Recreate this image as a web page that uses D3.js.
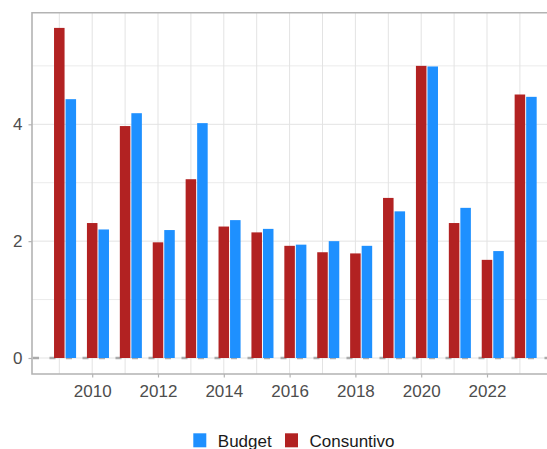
<!DOCTYPE html>
<html>
<head>
<meta charset="utf-8">
<script src="https://cdn.jsdelivr.net/npm/d3@7"></script>
<style>
  body { margin: 0; background: #fff; }
  text { font-family: "Liberation Sans", Arial, sans-serif; }
</style>
</head>
<body>
<svg width="547" height="449"></svg>
<script>
// data
var years = [2009,2010,2011,2012,2013,2014,2015,2016,2017,2018,2019,2020,2021,2022,2023]
var consuntivo = [5.65,2.31,3.97,1.98,3.06,2.25,2.15,1.92,1.81,1.79,2.74,5.0,2.31,1.68,4.51]
var budget = [4.43,2.20,4.19,2.19,4.02,2.36,2.21,1.94,2.0,1.92,2.51,4.99,2.57,1.83,4.47]
var yTicks = [0,2,4]
var yMinor = [1,3,5]
var xTicks = [2010,2012,2014,2016,2018,2020,2022]
var legendLabels = ["Budget","Consuntivo"]
var legendColors = ["#1e90ff","#b22222"]

var pLeft = 32, pRight = 548, pTop = 12.7, pBottom = 374

var x = d3.scaleLinear().domain([2009,2023]).range([59.3,519.9])
var y = d3.scaleLinear().domain([0,4]).range([358,124.3])

var svg = d3.select("svg")

// panel grid
var grid = svg.append("g")
grid.selectAll("line.ymin").data(yMinor).enter().append("line")
  .attr("x1",pLeft).attr("x2",pRight)
  .attr("y1",d=>y(d)).attr("y2",d=>y(d))
  .attr("stroke","#ebebeb").attr("stroke-width",1)
grid.selectAll("line.xall").data(years).enter().append("line")
  .attr("x1",d=>x(d)).attr("x2",d=>x(d))
  .attr("y1",pTop).attr("y2",pBottom)
  .attr("stroke","#e3e3e3").attr("stroke-width",1)
grid.selectAll("line.ymaj").data(yTicks).enter().append("line")
  .attr("x1",pLeft).attr("x2",pRight)
  .attr("y1",d=>y(d)).attr("y2",d=>y(d))
  .attr("stroke","#e3e3e3").attr("stroke-width",1)

// dashed zero line behind the bars
svg.append("line")
  .attr("x1",pLeft+1).attr("x2",pRight)
  .attr("y1",y(0)).attr("y2",y(0))
  .attr("stroke","#aaaaaa").attr("stroke-width",2.5)
  .attr("stroke-dasharray","6,10.5")

var bw = 0.32
svg.append("g").selectAll("rect").data(years).enter().append("rect")
  .attr("x",d=>x(d-bw/2)).attr("width",x(bw)-x(0))
  .attr("y",(d,i)=>y(consuntivo[i])).attr("height",(d,i)=>y(0)-y(consuntivo[i]))
  .attr("fill",legendColors[1])
svg.append("g").selectAll("rect").data(years).enter().append("rect")
  .attr("x",d=>x(d+0.19)).attr("width",x(bw)-x(0))
  .attr("y",(d,i)=>y(budget[i])).attr("height",(d,i)=>y(0)-y(budget[i]))
  .attr("fill",legendColors[0])

// panel border
svg.append("path")
  .attr("d","M"+pRight+","+pTop+"H"+pLeft+"V"+pBottom+"H"+pRight)
  .attr("fill","none").attr("stroke","#b3b3b3").attr("stroke-width",1.6)

// axes
svg.append("g").attr("transform","translate(0,"+pBottom+")")
  .call(d3.axisBottom(x).tickValues(xTicks).tickFormat(d3.format("d")).tickSize(3.5).tickPadding(7))
svg.append("g").attr("transform","translate("+pLeft+",0)")
  .call(d3.axisLeft(y).tickValues(yTicks).tickFormat(d3.format("d")).tickSize(3.5).tickPadding(6))
svg.selectAll(".domain").remove()
svg.selectAll(".tick line").attr("stroke","#b3b3b3").attr("stroke-width",1.2)
svg.selectAll(".tick text").attr("fill","#4d4d4d").style("font-size","17px")
  .style("font-family","'Liberation Sans', Arial, sans-serif")

// legend
var lg = svg.append("g")
var lx = [193.3, 285]
lg.selectAll("rect").data(legendLabels).enter().append("rect")
  .attr("x",(d,i)=>lx[i]).attr("y",433.3).attr("width",13).attr("height",14)
  .attr("fill",(d,i)=>legendColors[i])
lg.selectAll("text").data(legendLabels).enter().append("text")
  .attr("x",(d,i)=>lx[i]+24.5).attr("y",447)
  .attr("fill","#1a1a1a").style("font-size","17px")
  .text(d=>d)
</script>
</body>
</html>
